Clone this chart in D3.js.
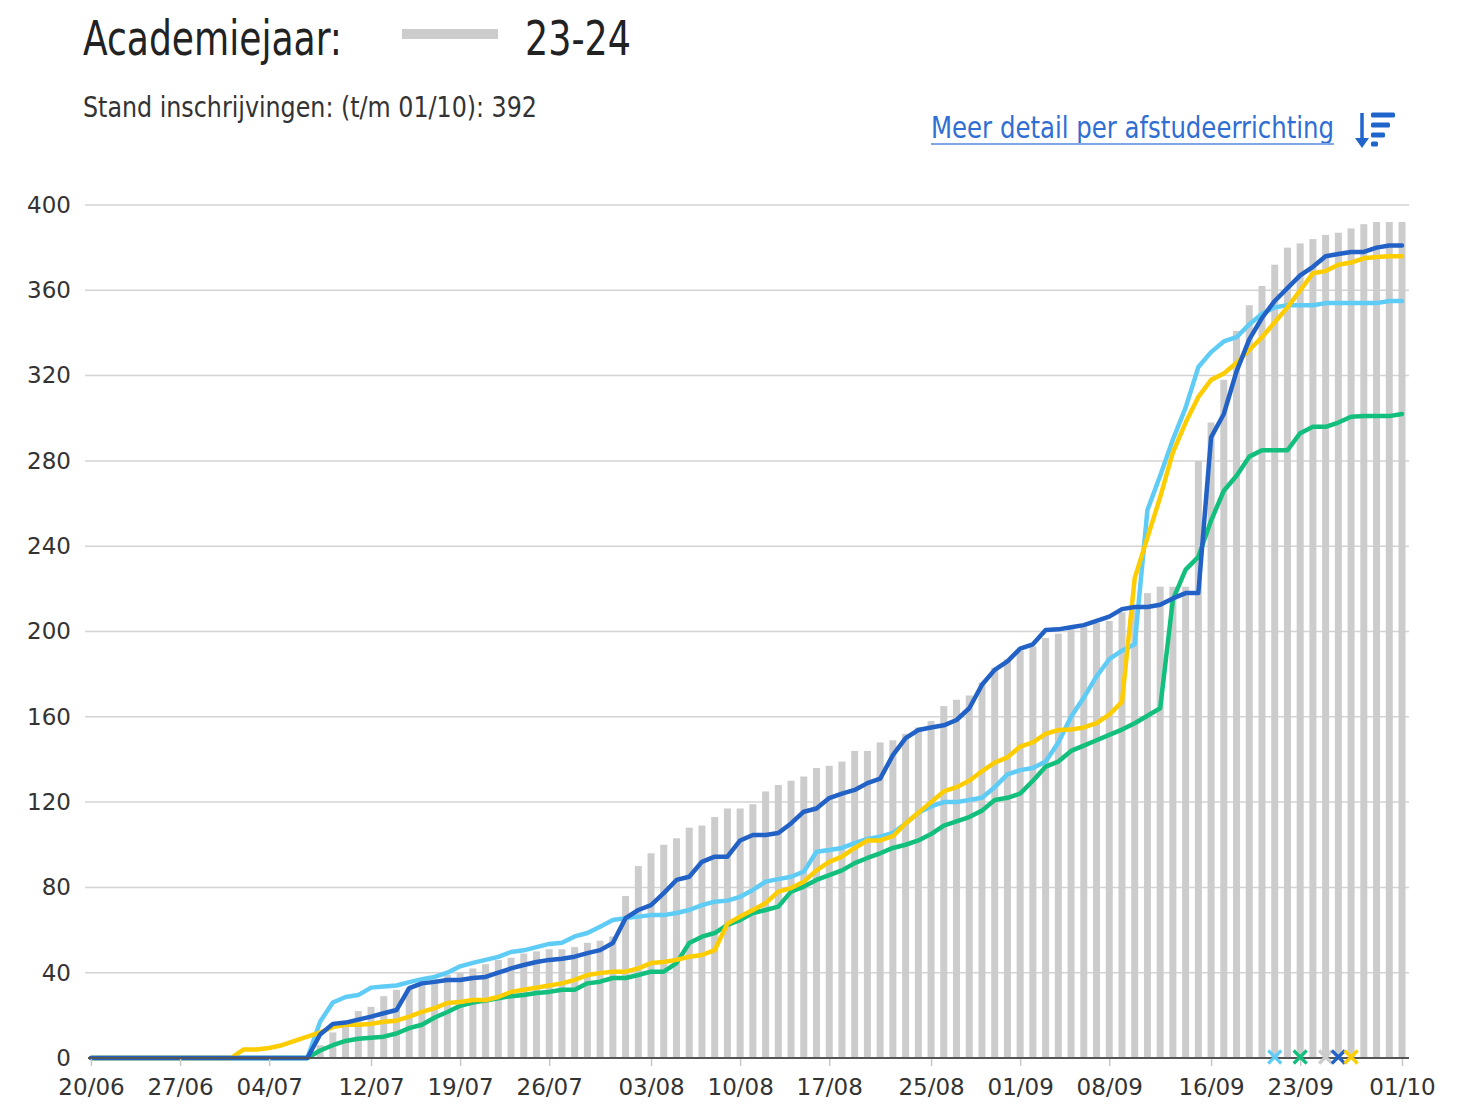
<!DOCTYPE html>
<html>
<head>
<meta charset="utf-8">
<script src="https://cdn.jsdelivr.net/npm/d3@7"></script>
<style>
  html, body { margin: 0; padding: 0; background: #fff; }
  svg { display: block; }
</style>
</head>
<body>
<svg id="chart" width="1469" height="1104"></svg>
<script>
// Period shown: one point per day
const firstDay = "20/06/2023";
const lastDay = "01/10/2023";

// Labelled dates on the x axis
const tickLabels = ["20/06", "27/06", "04/07", "12/07", "19/07", "26/07", "03/08", "10/08",
  "17/08", "25/08", "01/09", "08/09", "16/09", "23/09", "01/10"];

// Y axis ticks
const yTicks = [0, 40, 80, 120, 160, 200, 240, 280, 320, 360, 400];

// Cumulative registrations, academic year 23-24 (bars)
const inschrijvingen2324 = [
  0, 0, 0, 0, 0, 0, 0, 0, 0, 0,
  0, 0, 0, 0, 0, 0, 0, 0, 6, 12,
  17, 22, 24, 29, 32, 33, 35, 37, 39, 40,
  42, 44, 46, 47, 49, 50, 51, 51, 52, 54,
  55, 57, 76, 90, 96, 100, 103, 108, 109, 113,
  117, 117, 119, 125, 128, 130, 132, 136, 137, 139,
  144, 144, 148, 149, 152, 155, 158, 165, 168, 170,
  176, 183, 187, 191, 193, 197, 199, 201, 202, 204,
  205, 209, 212, 218, 221, 221, 221, 280, 298, 318,
  341, 353, 362, 372, 380, 382, 384, 386, 387, 389,
  391, 392, 392, 392
];

// Earlier academic years (lines)
const reeks1920 = [
  0, 0, 0, 0, 0, 0, 0, 0, 0, 0,
  0, 0, 0, 0, 0, 0, 0, 0, 17, 26,
  28.6, 29.5, 33, 33.5, 34, 35.6, 37, 38, 40, 43,
  44.6, 46, 47.4, 49.7, 50.5, 52, 53.5, 54, 57, 58.6,
  61.6, 64.7, 65.6, 66.3, 67, 67, 68, 69.4, 71.7, 73.3,
  73.8, 75.6, 78.8, 82.7, 83.9, 85, 87.4, 96.7, 97.5, 98.5,
  100.8, 102.7, 103.8, 105.5, 110, 115, 118, 120, 120, 121,
  122, 127, 133, 135, 136, 139, 148, 160, 169, 179,
  187, 191, 194, 257, 273, 290, 305, 324, 331, 336,
  338, 344, 349, 352, 353, 353, 353, 354, 354, 354,
  354, 354, 355, 355
];

const reeks2021 = [
  0, 0, 0, 0, 0, 0, 0, 0, 0, 0,
  0, 0, 0, 0, 0, 0, 0, 0, 3.5, 6,
  8, 9, 9.5, 10, 11.5, 14, 15.6, 19, 21.6, 24.5,
  26, 27, 28, 29, 29.5, 30.5, 31, 32, 32, 35,
  35.8, 37.5, 37.5, 38.9, 40.5, 40.5, 44.5, 53.9, 56.9, 58.6,
  62.4, 64.7, 68, 69.4, 71, 78, 80.4, 83.5, 85.8, 88,
  91.4, 93.8, 96, 98.5, 100, 102, 105, 109, 111, 113,
  116, 121, 122, 124, 130, 136.6, 139, 144, 146.5, 149,
  151.5, 154, 157, 160.5, 164, 215, 229, 235, 252, 266,
  273, 282, 285, 285, 285, 293, 296, 296, 298, 300.7,
  301, 301, 301, 302
];

const reeks2122 = [
  0, 0, 0, 0, 0, 0, 0, 0, 0, 0,
  0, 0, 0, 0, 0, 0, 0, 0, 11, 16,
  16.6, 18, 19.4, 21, 22.5, 32.8, 35, 35.7, 36.6, 36.6,
  37.5, 38, 40, 42, 43.6, 45, 46, 46.5, 47.5, 49.2,
  50.6, 53.9, 65.6, 69.4, 71.7, 77.3, 83.5, 85, 92, 94.4,
  94.4, 102, 104.6, 104.6, 105.5, 110, 115.5, 117, 121.9, 124,
  125.7, 128.9, 131, 142, 150, 153.8, 155, 156, 158.5, 164,
  175, 182, 186, 192, 194, 200.7, 201, 202, 203, 205,
  207, 210.5, 211.5, 211.5, 212.5, 215.5, 218, 218, 291, 302,
  322, 337, 347, 355, 361, 367, 371, 376, 377, 378,
  378, 380, 381, 381
];

const reeks2223 = [
  0, 0, 0, 0, 0, 0, 0, 0, 0, 0,
  0, 0, 4, 4, 4.7, 6, 8, 10, 12, 14.5,
  15.6, 15.6, 16, 17, 17.5, 19.4, 21.6, 23.4, 25.8, 26.3,
  27.2, 27.2, 28.6, 31, 32, 33, 34, 35, 36.6, 38.9,
  39.8, 40.5, 40.5, 42, 44.5, 45, 46, 47.5, 48.3, 50.6,
  63, 66.3, 69.4, 72.6, 78, 79.7, 82.7, 88, 92, 94.4,
  98.5, 102, 102, 104, 110, 115, 120, 125, 127, 130,
  134.5, 138.5, 141, 146, 148, 152, 153.8, 154, 155, 157,
  161, 167, 225, 244, 263, 284, 298, 310, 318, 321,
  326, 332, 338, 345, 352, 360, 368, 369, 372, 373,
  375, 375.6, 376, 376
];

// Reference dates per year, marked with a cross on the x axis
const markerYears = ["19-20", "20-21", "23-24", "21-22", "22-23"];
const markerDates = ["21/09", "23/09", "25/09", "26/09", "27/09"];

// Styling
const colors = {
  "19-20": "#5fccf6",
  "20-21": "#13bf7d",
  "21-22": "#2262c6",
  "22-23": "#fdcd00",
  "23-24": "#cccccc"
};

const lineSeries = [
  { year: "19-20", values: reeks1920 },
  { year: "20-21", values: reeks2021 },
  { year: "22-23", values: reeks2223 },
  { year: "21-22", values: reeks2122 }
];

const parseDay = d3.utcParse("%d/%m/%Y");
const start = parseDay(firstDay);
const end = parseDay(lastDay);
const days = d3.utcDay.range(start, d3.utcDay.offset(end, 1));
const year = start.getUTCFullYear();
const tickDates = tickLabels.map(t => parseDay(t + "/" + year));

const svg = d3.select("#chart");

const x = d3.scaleUtc().domain([start, end]).range([91, 1402]);
const y = d3.scaleLinear().domain([0, 400]).range([1058, 205]);

const plotLeft = 85, plotRight = 1409;

// ---- Header ----
const condensed = "'Liberation Sans Narrow', 'DejaVu Sans Condensed', 'Roboto', sans-serif";
svg.append("text")
  .attr("x", 83).attr("y", 55)
  .attr("font-family", condensed).attr("font-size", 48)
  .attr("fill", "#222")
  .attr("textLength", 259).attr("lengthAdjust", "spacingAndGlyphs")
  .text("Academiejaar:");

svg.append("rect")
  .attr("x", 402).attr("y", 29).attr("width", 96).attr("height", 10)
  .attr("fill", colors["23-24"]);

svg.append("text")
  .attr("x", 525).attr("y", 55)
  .attr("font-family", condensed).attr("font-size", 48)
  .attr("fill", "#222")
  .attr("textLength", 106).attr("lengthAdjust", "spacingAndGlyphs")
  .text("23-24");

svg.append("text")
  .attr("x", 83).attr("y", 117)
  .attr("font-family", condensed).attr("font-size", 29)
  .attr("fill", "#333")
  .attr("textLength", 454).attr("lengthAdjust", "spacingAndGlyphs")
  .text("Stand inschrijvingen: (t/m 01/10): " + inschrijvingen2324[inschrijvingen2324.length - 1]);

// Link with sort icon
const linkColor = "#2f6ed3";
svg.append("text")
  .attr("x", 931).attr("y", 138)
  .attr("font-family", condensed).attr("font-size", 30)
  .attr("fill", linkColor)
  .attr("textLength", 403).attr("lengthAdjust", "spacingAndGlyphs")
  .text("Meer detail per afstudeerrichting");
svg.append("line")
  .attr("x1", 931).attr("x2", 1334).attr("y1", 144).attr("y2", 144)
  .attr("stroke", "#7fa6e6").attr("stroke-width", 2);

const icon = svg.append("g").attr("fill", "#2065cc").attr("stroke", "#2065cc");
icon.append("line").attr("x1", 1362).attr("x2", 1362).attr("y1", 113).attr("y2", 142)
  .attr("stroke-width", 3.5);
icon.append("path").attr("d", "M1355,138 L1369,138 L1362,148 Z").attr("stroke", "none");
[[115, 24], [125, 19], [135, 14], [144, 7]].forEach(([yy, w]) => {
  icon.append("rect").attr("x", 1371).attr("y", yy - 2.5).attr("width", w).attr("height", 5)
    .attr("rx", 1.5).attr("stroke", "none");
});

// ---- Gridlines ----
svg.append("g")
  .selectAll("line")
  .data(yTicks.filter(t => t > 0))
  .join("line")
  .attr("x1", plotLeft).attr("x2", plotRight)
  .attr("y1", d => y(d)).attr("y2", d => y(d))
  .attr("stroke", "#d3d3d3").attr("stroke-width", 1.5);

// ---- Bars ----
const barWidth = 7;
svg.append("g")
  .selectAll("rect")
  .data(days.map((d, i) => ({ date: d, value: inschrijvingen2324[i] })).filter(d => d.value > 0))
  .join("rect")
  .attr("x", d => x(d.date) - barWidth / 2)
  .attr("width", barWidth)
  .attr("y", d => y(d.value))
  .attr("height", d => y(0) - y(d.value))
  .attr("fill", colors["23-24"]);

// ---- Lines ----
const line = d3.line()
  .x(d => x(d.date))
  .y(d => y(d.value));

svg.append("g")
  .selectAll("path")
  .data(lineSeries)
  .join("path")
  .attr("d", s => line(days.map((d, i) => ({ date: d, value: s.values[i] }))))
  .attr("fill", "none")
  .attr("stroke", s => colors[s.year])
  .attr("stroke-width", 4.5)
  .attr("stroke-linejoin", "round")
  .attr("stroke-linecap", "round");

// ---- X axis ----
const axisFont = "'DejaVu Sans', Verdana, sans-serif";
const xAxis = svg.append("g")
  .attr("transform", `translate(0,${y(0)})`)
  .call(d3.axisBottom(x)
    .tickValues(tickDates)
    .tickFormat(d3.utcFormat("%d/%m"))
    .tickSize(8)
    .tickPadding(13));
xAxis.select(".domain").remove();
xAxis.selectAll(".tick line").attr("stroke", "#c8c8c8").attr("stroke-width", 1.5);
xAxis.selectAll(".tick text")
  .attr("font-family", axisFont).attr("font-size", 23).attr("fill", "#333");

svg.append("line")
  .attr("x1", 88).attr("x2", plotRight)
  .attr("y1", y(0)).attr("y2", y(0))
  .attr("stroke", "#555").attr("stroke-width", 2);

// ---- Y axis labels ----
const yAxis = svg.append("g")
  .attr("transform", "translate(71,0)")
  .call(d3.axisLeft(y).tickValues(yTicks).tickSize(0).tickPadding(0));
yAxis.select(".domain").remove();
yAxis.selectAll(".tick text")
  .attr("font-family", axisFont).attr("font-size", 23).attr("fill", "#333");

// ---- Reference date crosses ----
const cross = svg.append("g");
markerYears.forEach((yr, i) => {
  const cx = x(parseDay(markerDates[i] + "/" + year));
  const cy = y(0) - 1;
  const r = 6.5;
  cross.append("path")
    .attr("d", `M${cx - r},${cy - r} L${cx + r},${cy + r} M${cx - r},${cy + r} L${cx + r},${cy - r}`)
    .attr("stroke", colors[yr]).attr("stroke-width", 3.2).attr("fill", "none");
});
</script>
</body>
</html>
